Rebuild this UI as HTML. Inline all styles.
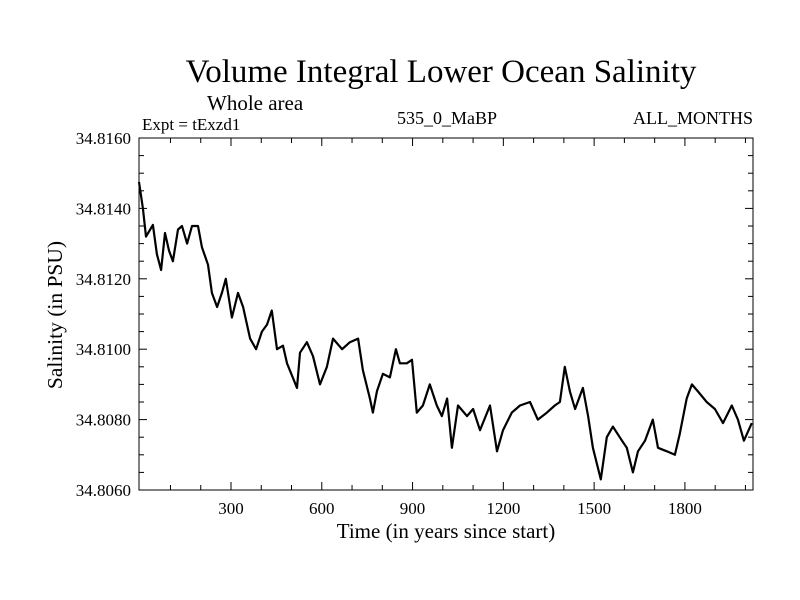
<!DOCTYPE html>
<html><head><meta charset="utf-8"><style>
body{margin:0;background:#fff}
svg{display:block;font-family:"Liberation Serif",serif}
</style></head><body>
<svg id="chart" width="800" height="600" viewBox="0 0 800 600">
<text x="441" y="82" font-size="33" text-anchor="middle">Volume Integral Lower Ocean Salinity</text>
<text x="207" y="110" font-size="21">Whole area</text>
<text x="142" y="130" font-size="17">Expt = tExzd1</text>
<text x="447" y="124" font-size="18" text-anchor="middle">535_0_MaBP</text>
<text x="753" y="124" font-size="18" text-anchor="end">ALL_MONTHS</text>
<text x="446" y="538" font-size="21" text-anchor="middle">Time (in years since start)</text>
<text transform="translate(62,315) rotate(-90)" font-size="21.5" text-anchor="middle">Salinity (in PSU)</text>
<g id="ticks"></g>
<path id="line" fill="none" stroke="#000" stroke-width="2.2" stroke-linejoin="round"/>
<rect x="139" y="138" width="614" height="352" fill="none" stroke="#000" stroke-width="1"/>
</svg>
<script>
const years=[-4,9,19,42,55,69,82,95,108,125,138,155,171,191,204,224,237,254,270,283,303,323,340,363,383,402,419,435,452,472,485,518,528,551,571,594,617,637,667,693,720,736,759,769,782,802,825,845,858,881,898,914,934,957,980,997,1014,1030,1050,1080,1100,1123,1156,1179,1199,1228,1255,1288,1314,1344,1370,1387,1403,1420,1437,1463,1480,1496,1522,1542,1562,1592,1608,1628,1645,1668,1694,1711,1740,1767,1783,1806,1823,1843,1872,1899,1926,1955,1975,1995,2021];
const salinity=[34.81475,34.8140,34.8132,34.81353,34.8127,34.81225,34.8133,34.8128,34.8125,34.8134,34.8135,34.8130,34.8135,34.8135,34.8129,34.8124,34.8116,34.8112,34.8116,34.8120,34.8109,34.8116,34.8112,34.8103,34.8100,34.8105,34.8107,34.8111,34.8100,34.8101,34.8096,34.8089,34.8099,34.8102,34.8098,34.8090,34.8095,34.8103,34.8100,34.8102,34.8103,34.8094,34.8086,34.8082,34.8088,34.8093,34.8092,34.8100,34.8096,34.8096,34.8097,34.8082,34.8084,34.8090,34.8084,34.8081,34.8086,34.8072,34.8084,34.8081,34.8083,34.8077,34.8084,34.8071,34.8077,34.8082,34.8084,34.8085,34.8080,34.8082,34.8084,34.8085,34.8095,34.8088,34.8083,34.8089,34.8081,34.8072,34.8063,34.8075,34.8078,34.8074,34.8072,34.8065,34.8071,34.8074,34.8080,34.8072,34.8071,34.8070,34.8076,34.8086,34.8090,34.8088,34.8085,34.8083,34.8079,34.8084,34.8080,34.8074,34.8079];
const xTickLabels=[300,600,900,1200,1500,1800];
const yTickLabels=["34.8060","34.8080","34.8100","34.8120","34.8140","34.8160"];
const X0=139,X1=753,Y0=490,Y1=138,xmin=-4,xmax=2025,ymin=34.806,ymax=34.816;
const sx=v=>X0+(v-xmin)/(xmax-xmin)*(X1-X0);
const sy=v=>Y0-(v-ymin)/(ymax-ymin)*(Y0-Y1);
const NS="http://www.w3.org/2000/svg";
const g=document.getElementById('ticks');
function ln(x1,y1,x2,y2,name){const l=document.createElementNS(NS,'line');l.setAttribute('x1',x1);l.setAttribute('y1',y1);l.setAttribute('x2',x2);l.setAttribute('y2',y2);l.setAttribute('stroke','#000');


g.appendChild(l);}
function tx(x,y,s,anchor,name){const t=document.createElementNS(NS,'text');t.setAttribute('x',x);t.setAttribute('y',y);t.setAttribute('font-size','17');t.setAttribute('text-anchor',anchor);t.textContent=s;


g.appendChild(t);}
for(let yr=100;yr<=2000;yr+=100){const x=sx(yr);const major=yr%300===0;const len=major?8:5;
ln(x,Y0,x,Y0-len,'x-tick');ln(x,Y1,x,Y1+len,'x-tick');}
xTickLabels.forEach(v=>tx(sx(v),514,String(v),'middle','x-tick-label'));
for(let i=0;i<=20;i++){const v=ymin+i*0.0005;const y=sy(v);const major=i%4===0;const len=major?8:5;
ln(X0,y,X0+len,y,'y-tick');ln(X1,y,X1-len,y,'y-tick');}
yTickLabels.forEach(s=>tx(131,sy(parseFloat(s))+6,s,'end','y-tick-label'));
document.getElementById('line').setAttribute('d',years.map((y,i)=>(i?'L':'M')+sx(y).toFixed(1)+','+sy(salinity[i]).toFixed(1)).join(''));
</script>
</body></html>
